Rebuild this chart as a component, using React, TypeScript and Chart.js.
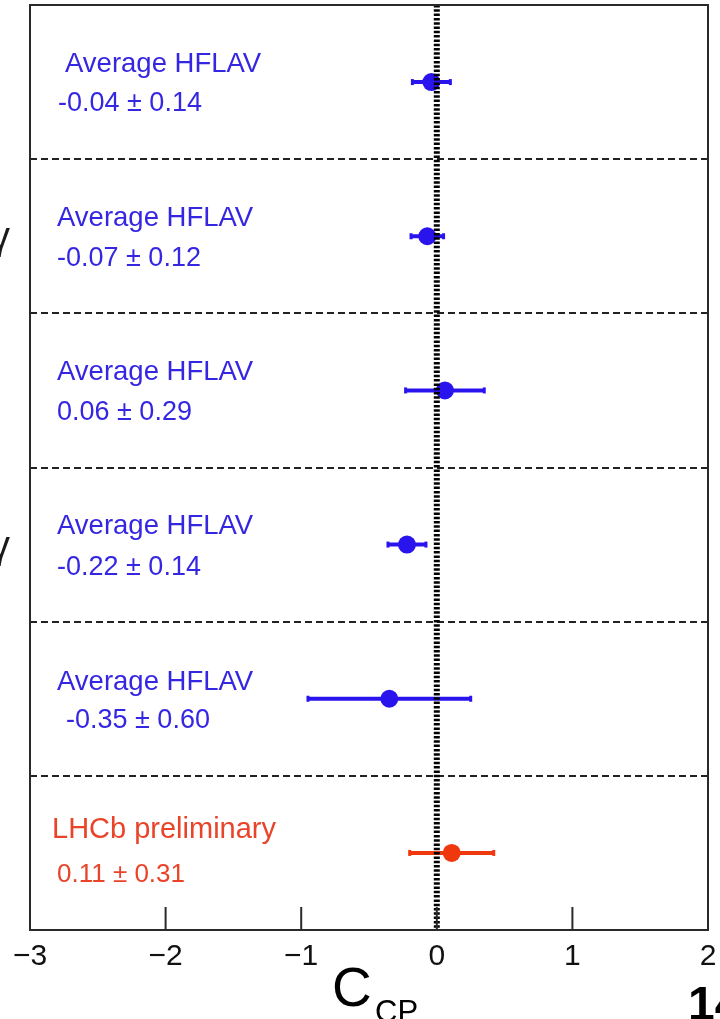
import React, { useEffect, useRef } from "react";
import { Chart, registerables } from "chart.js";

Chart.register(...registerables);

// ---- data ----
const rowTitles = [
  "Average HFLAV",
  "Average HFLAV",
  "Average HFLAV",
  "Average HFLAV",
  "Average HFLAV",
  "LHCb preliminary",
];
const rowKinds = ["avg", "avg", "avg", "avg", "avg", "lhcb"];
const cpValues = [-0.04, -0.07, 0.06, -0.22, -0.35, 0.11];
const cpErrors = [0.14, 0.12, 0.29, 0.14, 0.6, 0.31];
const xTicks = [-3, -2, -1, 0, 1, 2];
const sideLabels = ["", "γ", "", "γ", "", ""];

// ---- layout / style (not data) ----
const titleX = [65, 57, 57, 57, 57, 52];
const valueX = [58, 57, 57, 57, 66, 57];
const titleBase = [67, 67, 67, 66, 68, 62];
const valueBase = [106, 107, 107, 107, 106, 106];
const titleSize = [27.5, 27.5, 27.5, 27.5, 27.5, 29];
const valueSize = [27, 27, 27, 27, 27, 26];

const FONT = "'Liberation Sans', Arial, Helvetica, sans-serif";
const BLUE = "#2a14ee";
const BLUE_TEXT = "#3526e2";
const RED = "#f0380f";
const RED_TEXT = "#e9442a";

const overlay = {
  id: "overlay",
  beforeDatasetsDraw(chart: any) {
    const { ctx, chartArea } = chart;
    const xs = chart.scales.x;
    const ys = chart.scales.y;
    // separators
    ctx.save();
    ctx.strokeStyle = "#222";
    ctx.lineWidth = 2;
    ctx.setLineDash([7, 4]);
    for (let i = 1; i < cpValues.length; i++) {
      const y = Math.round(ys.getPixelForValue(i));
      ctx.beginPath();
      ctx.moveTo(chartArea.left, y);
      ctx.lineTo(chartArea.right, y);
      ctx.stroke();
    }
    ctx.restore();
    // error bars
    ctx.save();
    cpValues.forEach((v, i) => {
      const col = rowKinds[i] === "lhcb" ? RED : BLUE;
      const y = ys.getPixelForValue(i + 0.5);
      const x1 = xs.getPixelForValue(v - cpErrors[i]);
      const x2 = xs.getPixelForValue(v + cpErrors[i]);
      ctx.strokeStyle = col;
      ctx.fillStyle = col;
      ctx.lineWidth = 4;
      ctx.beginPath();
      ctx.moveTo(x1, y);
      ctx.lineTo(x2, y);
      ctx.stroke();
      ctx.fillRect(x1 - 1.5, y - 3, 3, 6);
      ctx.fillRect(x2 - 1.5, y - 3, 3, 6);
    });
    ctx.restore();
  },
  afterDatasetsDraw(chart: any) {
    const { ctx, chartArea } = chart;
    const xs = chart.scales.x;
    const ys = chart.scales.y;
    // zero line
    ctx.save();
    const x0 = xs.getPixelForValue(0);
    ctx.strokeStyle = "#000";
    ctx.lineWidth = 6;
    ctx.setLineDash([2.5, 1.8]);
    ctx.beginPath();
    ctx.moveTo(x0, chartArea.top);
    ctx.lineTo(x0, chartArea.bottom);
    ctx.stroke();
    ctx.restore();
    // frame
    ctx.save();
    ctx.strokeStyle = "#2a2a2a";
    ctx.lineWidth = 2;
    ctx.strokeRect(
      chartArea.left,
      chartArea.top,
      chartArea.right - chartArea.left,
      chartArea.bottom - chartArea.top
    );
    // inward ticks
    xTicks.forEach((t) => {
      const x = xs.getPixelForValue(t);
      ctx.beginPath();
      ctx.moveTo(x, chartArea.bottom);
      ctx.lineTo(x, chartArea.bottom - 23);
      ctx.stroke();
    });
    ctx.restore();
    // row texts
    ctx.save();
    ctx.textAlign = "left";
    ctx.textBaseline = "alphabetic";
    cpValues.forEach((v, i) => {
      const top = ys.getPixelForValue(i);
      const col = rowKinds[i] === "lhcb" ? RED_TEXT : BLUE_TEXT;
      ctx.fillStyle = col;
      ctx.font = `${titleSize[i]}px ${FONT}`;
      ctx.fillText(rowTitles[i], titleX[i], top + titleBase[i]);
      ctx.font = `${valueSize[i]}px ${FONT}`;
      ctx.fillText(
        `${v.toFixed(2)} ± ${cpErrors[i].toFixed(2)}`,
        valueX[i],
        top + valueBase[i]
      );
      if (sideLabels[i]) {
        ctx.save();
        ctx.fillStyle = "#1a1a1a";
        ctx.textAlign = "right";
        ctx.font = `38px ${FONT}`;
        ctx.fillText(sideLabels[i], 10, ys.getPixelForValue(i + 0.5) + 13);
        ctx.restore();
      }
    });
    ctx.restore();
    // axis title C_CP
    ctx.save();
    ctx.fillStyle = "#000";
    ctx.textAlign = "left";
    ctx.textBaseline = "alphabetic";
    ctx.font = `55px ${FONT}`;
    ctx.fillText("C", 332, chartArea.bottom + 76);
    ctx.font = `31px ${FONT}`;
    ctx.fillText("CP", 375, chartArea.bottom + 92);
    ctx.font = `bold 48px ${FONT}`;
    ctx.fillText("14", 688, chartArea.bottom + 90);
    ctx.restore();
  },
};

export default function App() {
  const ref = useRef<HTMLCanvasElement | null>(null);
  useEffect(() => {
    if (!ref.current) return;
    const chart = new Chart(ref.current, {
      type: "scatter",
      data: {
        datasets: [
          {
            data: cpValues.map((v, i) => ({ x: v, y: i + 0.5 })),
            pointRadius: 9,
            pointBackgroundColor: rowKinds.map((k) => (k === "lhcb" ? RED : BLUE)),
            pointBorderColor: rowKinds.map((k) => (k === "lhcb" ? RED : BLUE)),
            pointBorderWidth: 0,
            showLine: false,
          },
        ],
      },
      options: {
        animation: false,
        responsive: false,
        events: [],
        layout: { autoPadding: false, padding: { left: 30, right: 12, top: 5, bottom: 0 } },
        plugins: { legend: { display: false }, tooltip: { enabled: false } },
        scales: {
          x: {
            type: "linear",
            min: -3,
            max: 2,
            afterBuildTicks: (s: any) => {
              s.ticks = xTicks.map((v) => ({ value: v }));
            },
            afterFit: (s: any) => {
              s.height = 89;
              s.paddingLeft = 0;
              s.paddingRight = 0;
            },
            ticks: {
              padding: 9,
              color: "#111",
              font: { family: FONT, size: 30 },
              callback: (v: any) => String(v).replace("-", "\u2212"),
            },
            grid: { display: false, drawTicks: false },
            border: { display: false },
          },
          y: { type: "linear", min: 0, max: 6, reverse: true, display: false },
        },
      },
      plugins: [overlay],
    } as any);
    return () => chart.destroy();
  }, []);
  return (
    <div style={{ position: "absolute", left: 0, top: 0, width: 720, height: 1019, background: "#fff" }}>
      <canvas ref={ref} width={720} height={1019} />
    </div>
  );
}
